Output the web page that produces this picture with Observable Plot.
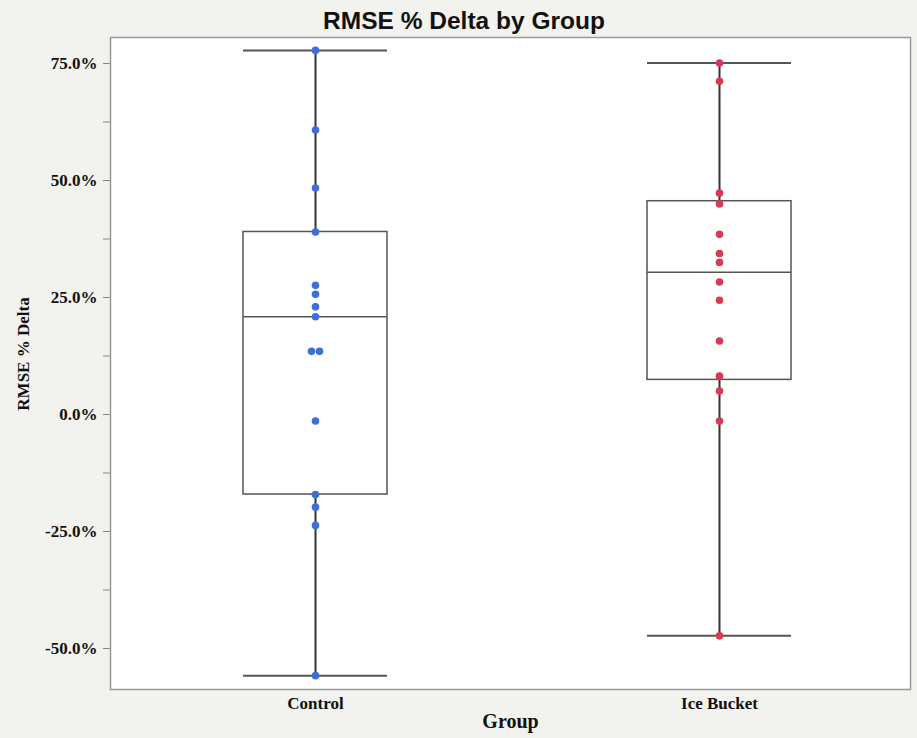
<!DOCTYPE html>
<html>
<head>
<meta charset="utf-8">
<script src="https://cdn.jsdelivr.net/npm/d3@7"></script>
<script src="https://cdn.jsdelivr.net/npm/@observablehq/plot@0.6"></script>
<style>
  html, body { margin: 0; padding: 0; background: #f2f2ee; }
  #title { height: 36px; width: 917px; text-align: center; font-family: "Liberation Sans", Arial, sans-serif; font-weight: bold; font-size: 24.5px; line-height: 42px; color: #111; padding-left: 11px; box-sizing: border-box; white-space: nowrap; overflow: visible; }
  #chart svg { display: block; }
</style>
</head>
<body>
<div id="title">RMSE % Delta by Group</div>
<div id="chart"></div>
<script>
const groups = ["Control", "Ice Bucket"];
const controlValues = [77.8, 60.8, 48.4, 39.0, 27.6, 25.7, 23.0, 20.9, 13.5, 13.5, -1.4, -17.1, -19.8, -23.7, -55.8];
const iceBucketValues = [75.1, 71.2, 47.3, 45.0, 38.5, 34.4, 32.5, 28.3, 24.4, 15.7, 8.2, 5.0, -1.4, -47.3];
const yTicks = [-50, -25, 0, 25, 50, 75];
const yMinorTicks = [-37.5, -12.5, 12.5, 37.5, 62.5];
const groupColors = ["#3d6fd9", "#d83a55"];

const valuesByGroup = [controlValues, iceBucketValues];

// quantile with (n+1)p positioning
function quant(sorted, p) {
  const h = (sorted.length + 1) * p;
  const lo = Math.floor(h), f = h - lo;
  if (lo < 1) return sorted[0];
  if (lo >= sorted.length) return sorted[sorted.length - 1];
  return sorted[lo - 1] + f * (sorted[lo] - sorted[lo - 1]);
}

const stats = groups.map((g, i) => {
  const s = valuesByGroup[i].slice().sort((a, b) => a - b);
  const q1 = quant(s, 0.25), q3 = quant(s, 0.75), med = quant(s, 0.5);
  const iqr = q3 - q1;
  const lo = d3.min(s.filter(v => v >= q1 - 1.5 * iqr));
  const hi = d3.max(s.filter(v => v <= q3 + 1.5 * iqr));
  return {group: g, q1, q3, median: med, lo, hi};
});

const points = [];
groups.forEach((g, i) => {
  const vals = valuesByGroup[i];
  const counts = d3.rollup(vals, v => v.length, v => v);
  const seen = new Map();
  vals.forEach(v => {
    const c = counts.get(v);
    const k = seen.get(v) || 0;
    seen.set(v, k + 1);
    points.push({group: g, value: v, offset: c > 1 ? (k - (c - 1) / 2) : 0});
  });
});

const serif = "'Liberation Serif', 'Times New Roman', serif";

const chart = Plot.plot({
  width: 917,
  height: 702,
  marginTop: 1,
  marginLeft: 110,
  marginRight: 7,
  marginBottom: 49,
  style: {background: "transparent", fontFamily: serif, color: "#111"},
  x: {type: "band", domain: groups, range: [242, 791], paddingInner: 0.6444, paddingOuter: 0, axis: null},
  y: {domain: [-58.76, 80.56], axis: null},
  color: {domain: groups, range: groupColors},
  marks: [
    Plot.frame({fill: "white", stroke: "none"}),
    Plot.axisY(yTicks, {tickSize: 7, tickPadding: 6, tickFormat: d => d.toFixed(1) + "%", fontSize: 17, fontWeight: "bold", stroke: "#888", label: null}),
    Plot.axisY(yMinorTicks, {tickSize: 7, tickFormat: () => "", stroke: "#888", label: null}),
    Plot.axisX(groups, {tickSize: 0, tickPadding: 7, fontSize: 17, fontWeight: "bold", label: null}),
    Plot.text(["RMSE % Delta"], {text: d => d, frameAnchor: "left", textAnchor: "middle", lineAnchor: "middle", dx: -86.5, dy: -9.5, rotate: -90, fontSize: 17, fontWeight: "bold"}),
    Plot.text(["Group"], {text: d => d, frameAnchor: "bottom", textAnchor: "middle", lineAnchor: "middle", dy: 32, fontSize: 20, fontWeight: "bold"}),
    Plot.ruleX(stats, {x: "group", y1: "q3", y2: "hi", stroke: "#333", strokeWidth: 2}),
    Plot.ruleX(stats, {x: "group", y1: "lo", y2: "q1", stroke: "#333", strokeWidth: 2}),
    Plot.barY(stats, {x: "group", y1: "q1", y2: "q3", fill: "none", stroke: "#555", strokeWidth: 1.5}),
    Plot.tickY(stats, {x: "group", y: "median", stroke: "#555", strokeWidth: 1.5}),
    Plot.tickY(stats, {x: "group", y: "hi", stroke: "#555", strokeWidth: 2}),
    Plot.tickY(stats, {x: "group", y: "lo", stroke: "#555", strokeWidth: 2}),
    Plot.dot(points.filter(d => d.offset === 0), {x: "group", y: "value", fill: "group", r: 3.8}),
    Plot.dot(points.filter(d => d.offset < 0), {x: "group", y: "value", fill: "group", r: 3.8, dx: -4}),
    Plot.dot(points.filter(d => d.offset > 0), {x: "group", y: "value", fill: "group", r: 3.8, dx: 4}),
    Plot.frame({stroke: "#999", strokeWidth: 1.5})
  ]
});
document.getElementById("chart").appendChild(chart);
</script>
</body>
</html>
